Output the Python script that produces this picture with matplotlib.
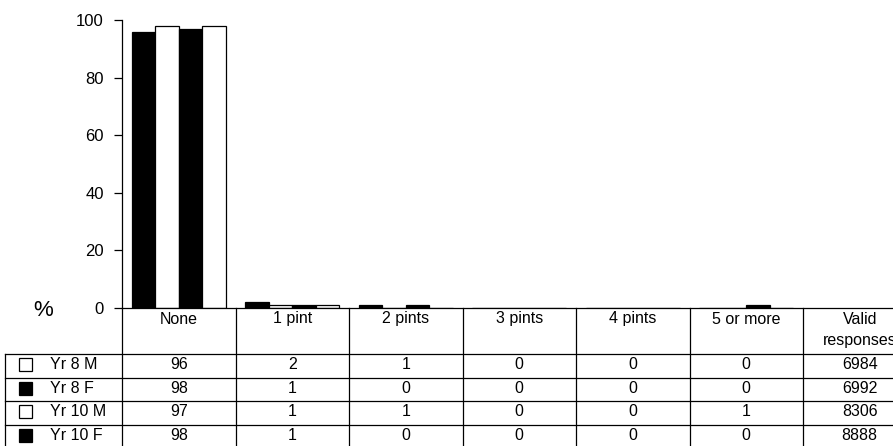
import matplotlib.pyplot as plt
import numpy as np
from matplotlib.lines import Line2D
from matplotlib.patches import Rectangle

plt.rcParams['font.family'] = ['Liberation Sans', 'DejaVu Sans']

# ----------------------------------------------------------------
# data
# ----------------------------------------------------------------
categories = ['None', '1 pint', '2 pints', '3 pints', '4 pints', '5 or more']
groups = ['Yr 8 M', 'Yr 8 F', 'Yr 10 M', 'Yr 10 F']
yr8_m = [96, 2, 1, 0, 0, 0]
yr8_f = [98, 1, 0, 0, 0, 0]
yr10_m = [97, 1, 1, 0, 0, 1]
yr10_f = [98, 1, 0, 0, 0, 0]
valid = [6984, 6992, 8306, 8888]
bar_colors = ['black', 'white', 'black', 'white']
key_colors = ['white', 'black', 'white', 'black']

W, H = 893, 446
fig = plt.figure(figsize=(W / 100, H / 100), dpi=100)


def fx(x):
    return x / W


def fy(y):
    return 1 - y / H


# pixel layout
ax_left, ax_right = 122, 893
ax_top, ax_bottom = 20, 307.5
col_w = 113.5
row_tops = [354, 377.5, 401, 424.5, 448]
fs = 11.5

ax = fig.add_axes([fx(ax_left), fy(ax_bottom), fx(ax_right - ax_left), (ax_bottom - ax_top) / H])

series = [yr8_m, yr8_f, yr10_m, yr10_f]
x = np.arange(len(categories)) + 0.5
bw = 0.207
for i, vals in enumerate(series):
    ax.bar(x + (i - 1.5) * bw, vals, width=bw, color=bar_colors[i],
           edgecolor='black', linewidth=0.9)

ax.set_xlim(0, (ax_right - ax_left) / col_w)
ax.set_ylim(0, 100)
ax.set_yticks(range(0, 101, 20))
ax.set_xticks([])
ax.tick_params(axis='y', length=6, width=0.9, pad=7, labelsize=12)
ax.spines['top'].set_visible(False)
ax.spines['right'].set_visible(False)
ax.spines['left'].set_linewidth(0.9)
ax.spines['bottom'].set_linewidth(0.9)

fig.text(fx(43), fy(310), '%', fontsize=16, ha='center', va='center')


def line(x0, y0, x1, y1):
    fig.add_artist(Line2D([fx(x0), fx(x1)], [fy(y0), fy(y1)], color='black',
                          linewidth=0.9, transform=fig.transFigure))


# table grid
for j in range(len(categories) + 1):
    line(ax_left + j * col_w, ax_bottom, ax_left + j * col_w, H)
line(5, row_tops[0], 5, H)
for yt in row_tops[:-1]:
    line(5, yt, W, yt)

# header
for j, cat in enumerate(categories):
    fig.text(fx(ax_left + (j + 0.5) * col_w), fy(319), cat, fontsize=fs,
             ha='center', va='center')
vx = ax_left + (len(categories) + 0.5) * col_w
fig.text(fx(vx), fy(319), 'Valid', fontsize=fs, ha='center', va='center')
fig.text(fx(vx), fy(340), 'responses', fontsize=fs, ha='center', va='center')

# rows
for i, g in enumerate(groups):
    yc = (row_tops[i] + row_tops[i + 1]) / 2 - 1
    fig.add_artist(Rectangle((fx(19), fy(yc + 6.5)), fx(13), 13 / H,
                             facecolor=key_colors[i], edgecolor='black',
                             linewidth=0.9, transform=fig.transFigure))
    fig.text(fx(50), fy(yc), g, fontsize=fs, ha='left', va='center')
    for j, v in enumerate(series[i]):
        fig.text(fx(ax_left + (j + 0.5) * col_w), fy(yc), str(v), fontsize=fs,
                 ha='center', va='center')
    fig.text(fx(vx), fy(yc), str(valid[i]), fontsize=fs, ha='center', va='center')

fig.savefig('out.png', dpi=100)
